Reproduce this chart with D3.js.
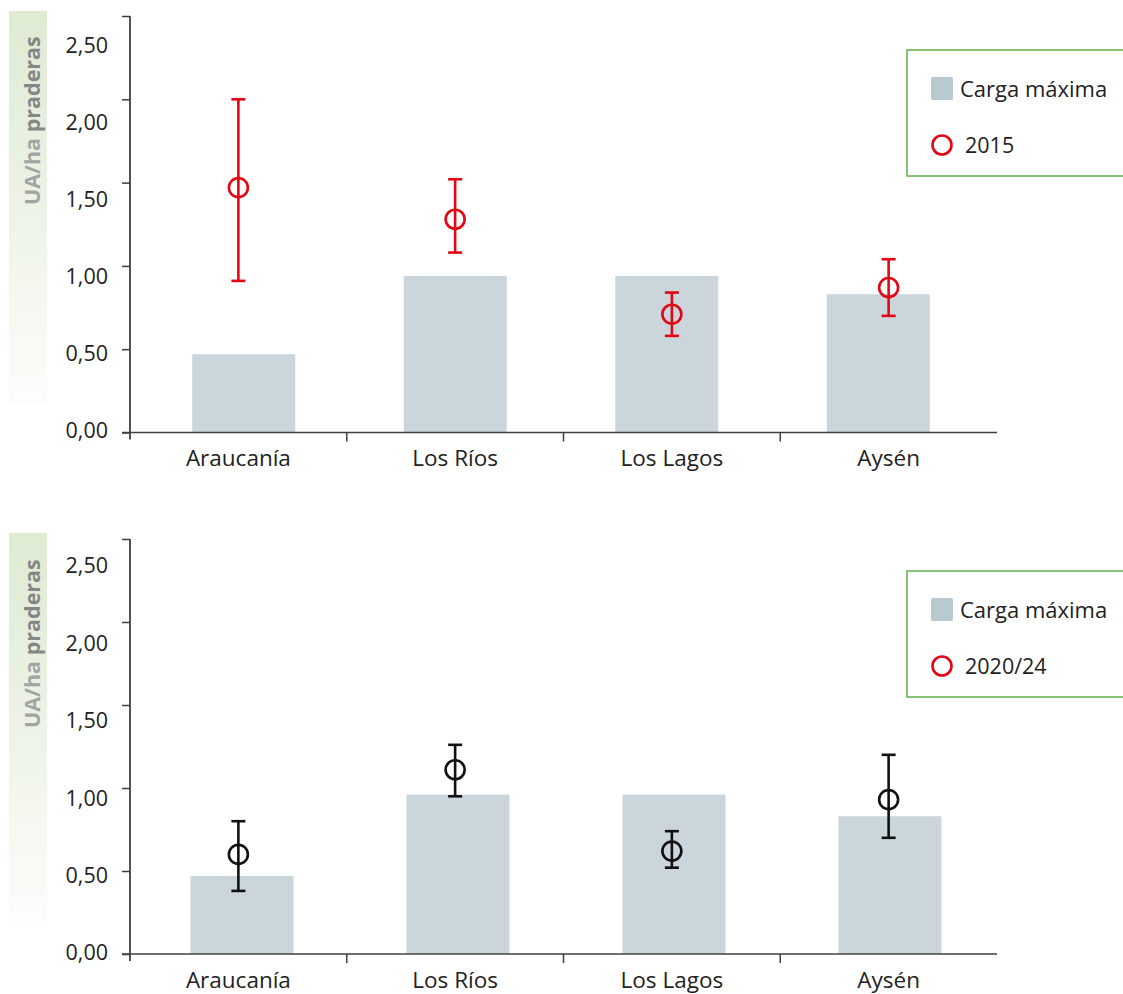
<!DOCTYPE html>
<html>
<head>
<meta charset="utf-8">
<script src="https://cdn.jsdelivr.net/npm/d3@7"></script>
<style>
  html, body { margin: 0; padding: 0; background: #fff; }
  svg { display: block; font-family: "Open Sans", "Noto Sans", sans-serif; }
</style>
</head>
<body>
<svg id="chart" width="1123" height="994"></svg>
<script>
// ---- data ----
const categories = ["Araucanía", "Los Ríos", "Los Lagos", "Aysén"];
const cargaMaxima2015 = [0.47, 0.94, 0.94, 0.83];
const cargaMaxima2020 = [0.47, 0.96, 0.96, 0.83];
const mean2015 = [1.47, 1.28, 0.71, 0.87];
const low2015  = [0.91, 1.08, 0.58, 0.70];
const high2015 = [2.00, 1.52, 0.84, 1.04];
const mean2020 = [0.60, 1.11, 0.62, 0.93];
const low2020  = [0.38, 0.95, 0.52, 0.70];
const high2020 = [0.80, 1.26, 0.74, 1.20];
const yTicks = [0, 0.5, 1, 1.5, 2, 2.5];
const yTickLabels = ["0,00", "0,50", "1,00", "1,50", "2,00", "2,50"];
const yTitleA = "UA/ha";
const yTitleB = "praderas";
const legendBarLabel = "Carga máxima";
const legendLabels = ["2015", "2020/24"];

const svg = d3.select("#chart");
const defs = svg.append("defs");
const grad = defs.append("linearGradient").attr("id", "ygrad")
  .attr("x1", 0).attr("y1", 0).attr("x2", 0).attr("y2", 1);
grad.append("stop").attr("offset", "0%").attr("stop-color", "#dfead3");
grad.append("stop").attr("offset", "55%").attr("stop-color", "#eef4e8");
grad.append("stop").attr("offset", "100%").attr("stop-color", "#fdfdfb");

const BAR = "#cad6dc";
const AXIS = "#3f3f3f";

function panel(cfg) {
  const g = svg.append("g");
  const y = d3.scaleLinear().domain([0, 2.5]).range([cfg.y0, cfg.y25]);
  const yLab = d3.scaleLinear().domain([0, 2.5]).range(cfg.labRange);
  const x = d3.scaleBand().domain(categories).range([130, 997]).padding(0);
  const xBar = d3.scaleBand().domain(categories).range(cfg.barRange).padding(0);
  const barW = 103;

  // y title background
  g.append("rect").attr("x", 9).attr("y", cfg.titleBg[0]).attr("width", 38)
    .attr("height", cfg.titleBg[1] - cfg.titleBg[0]).attr("fill", "url(#ygrad)");
  const t = g.append("text")
    .attr("transform", `translate(39.5,${cfg.titleStart}) rotate(-90)`)
    .attr("font-size", 21.5).attr("font-weight", 700);
  t.append("tspan").attr("fill", "#a3a5a4").text(yTitleA + " ");
  t.append("tspan").attr("fill", "#858786").text(yTitleB);

  // bars
  g.selectAll("rect.bar").data(categories).join("rect").attr("class", "bar")
    .attr("x", d => xBar(d) + xBar.bandwidth() / 2 - barW / 2)
    .attr("width", barW)
    .attr("y", (d, i) => y(cfg.bars[i]))
    .attr("height", (d, i) => y(0) - y(cfg.bars[i]))
    .attr("fill", BAR);

  // y axis ticks (no labels)
  const yAx = g.append("g").attr("transform", "translate(130,0)")
    .call(d3.axisLeft(y).tickValues(yTicks).tickFormat("").tickSize(8).tickSizeOuter(0));
  yAx.select(".domain").remove();
  yAx.selectAll("line").attr("stroke", AXIS).attr("stroke-width", 1.5);
  g.append("line").attr("x1", 130).attr("x2", 130)
    .attr("y1", y(2.5)).attr("y2", y(0) + 7).attr("stroke", AXIS).attr("stroke-width", 1.8);

  // y labels (separate label scale as drawn in reference)
  const yL = g.append("g").attr("transform", "translate(108,0)")
    .call(d3.axisLeft(yLab).tickValues(yTicks).tickFormat((d, i) => yTickLabels[i]).tickSize(0).tickPadding(0));
  yL.select(".domain").remove();
  yL.selectAll("text").attr("font-size", 21.5).attr("fill", "#222")
    .attr("font-family", "'Open Sans', sans-serif");

  // x axis
  const xAx = g.append("g").attr("transform", `translate(0,${y(0)})`)
    .call(d3.axisBottom(x).tickSize(0).tickPadding(18));
  xAx.select(".domain").remove();
  xAx.selectAll("text").attr("font-size", 22.5).attr("fill", "#222")
    .attr("font-family", "'Open Sans', sans-serif");
  g.append("line").attr("x1", 122).attr("x2", 997).attr("y1", y(0)).attr("y2", y(0))
    .attr("stroke", AXIS).attr("stroke-width", 1.6);
  g.selectAll("line.sep").data(categories.slice(1)).join("line").attr("class", "sep")
    .attr("x1", d => x(d)).attr("x2", d => x(d))
    .attr("y1", y(0)).attr("y2", y(0) + 9).attr("stroke", AXIS).attr("stroke-width", 1.5);

  // error bars
  const cx = d => x(d) + x.bandwidth() / 2;
  const eg = g.append("g").attr("stroke", cfg.color).attr("stroke-width", 2.6).attr("fill", "none");
  categories.forEach((c, i) => {
    eg.append("line").attr("x1", cx(c)).attr("x2", cx(c))
      .attr("y1", y(cfg.low[i])).attr("y2", y(cfg.high[i]));
    [cfg.low[i], cfg.high[i]].forEach(v => {
      eg.append("line").attr("x1", cx(c) - 7).attr("x2", cx(c) + 7)
        .attr("y1", y(v)).attr("y2", y(v));
    });
    eg.append("circle").attr("cx", cx(c)).attr("cy", y(cfg.mean[i])).attr("r", 9.5)
      .attr("fill", "none");
  });

  // legend
  const lg = g.append("g").attr("transform", `translate(907,${cfg.legTop})`);
  lg.append("rect").attr("x", 0).attr("y", 0).attr("width", 240).attr("height", 126)
    .attr("fill", "#fff").attr("stroke", "#5fb049").attr("stroke-width", 1.5);
  lg.append("rect").attr("x", 24).attr("y", 27).attr("width", 22).attr("height", 23)
    .attr("rx", 1.5).attr("fill", "#b9c9d1");
  lg.append("text").attr("x", 53).attr("y", 46.5).attr("font-size", 22).attr("fill", "#222")
    .text(legendBarLabel);
  lg.append("circle").attr("cx", 35).attr("cy", 95).attr("r", 9.5)
    .attr("fill", "none").attr("stroke", "#e30613").attr("stroke-width", 2.6);
  lg.append("text").attr("x", 58).attr("y", 103).attr("font-size", 21.5).attr("fill", "#222")
    .text(cfg.legendLabel);
}

panel({
  y0: 432.5, y25: 16, labRange: [431, 46], barRange: [138, 984],
  bars: cargaMaxima2015, mean: mean2015, low: low2015, high: high2015,
  color: "#e30613", legTop: 50, legendLabel: legendLabels[0],
  titleBg: [11, 405], titleStart: 205
});
panel({
  y0: 954, y25: 539, labRange: [953, 566], barRange: [134, 998],
  bars: cargaMaxima2020, mean: mean2020, low: low2020, high: high2020,
  color: "#111", legTop: 571, legendLabel: legendLabels[1],
  titleBg: [533, 922], titleStart: 728
});
</script>
</body>
</html>
